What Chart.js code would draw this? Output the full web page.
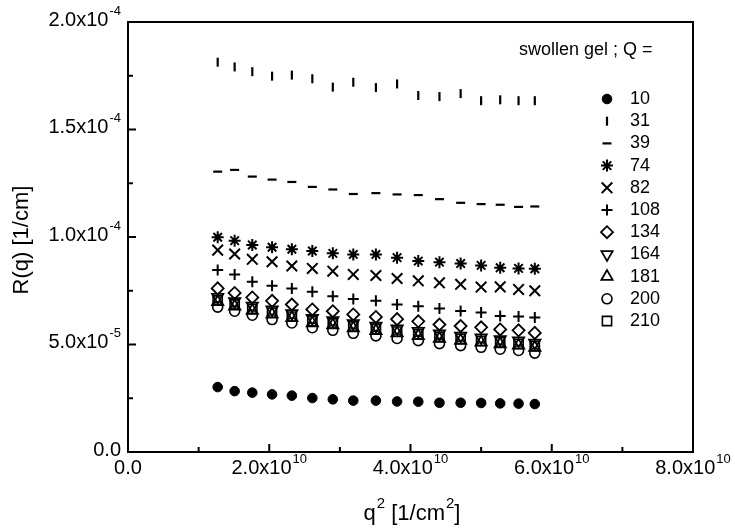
<!DOCTYPE html>
<html lang="en">
<head>
    <meta charset="UTF-8">
    <title>R(q) vs q^2 - swollen gel</title>
    <script src="https://cdn.jsdelivr.net/npm/chart.js"></script>
    <style>
        body { margin: 0; background: white; }
        canvas { display: block; }
    </style>
</head>
<body>
    <canvas id="rqChart" width="735" height="529"></canvas>

    <script>
        // q^2 positions (1/cm^2), same for every series
        var q2 = [1.27e10, 1.51e10, 1.76e10, 2.04e10, 2.32e10, 2.61e10, 2.90e10, 3.19e10, 3.51e10,
                  3.81e10, 4.11e10, 4.41e10, 4.71e10, 5.00e10, 5.27e10, 5.53e10, 5.76e10];

        // R(q) for each Q (1/cm)
        var R10  = [3.02e-5, 2.83e-5, 2.76e-5, 2.68e-5, 2.62e-5, 2.51e-5, 2.45e-5, 2.39e-5, 2.39e-5,
                    2.35e-5, 2.34e-5, 2.29e-5, 2.29e-5, 2.28e-5, 2.26e-5, 2.25e-5, 2.23e-5];
        var R31  = [1.813e-4, 1.791e-4, 1.769e-4, 1.748e-4, 1.753e-4, 1.736e-4, 1.697e-4, 1.720e-4, 1.695e-4,
                    1.712e-4, 1.658e-4, 1.653e-4, 1.667e-4, 1.634e-4, 1.638e-4, 1.634e-4, 1.634e-4];
        var R39  = [1.304e-4, 1.312e-4, 1.281e-4, 1.267e-4, 1.256e-4, 1.233e-4, 1.221e-4, 1.200e-4, 1.204e-4,
                    1.198e-4, 1.195e-4, 1.176e-4, 1.159e-4, 1.153e-4, 1.150e-4, 1.140e-4, 1.142e-4];
        var R74  = [9.99e-5, 9.83e-5, 9.63e-5, 9.52e-5, 9.43e-5, 9.35e-5, 9.24e-5, 9.19e-5, 9.19e-5,
                    9.04e-5, 8.88e-5, 8.83e-5, 8.77e-5, 8.68e-5, 8.57e-5, 8.54e-5, 8.52e-5];
        var R82  = [9.39e-5, 9.21e-5, 8.96e-5, 8.85e-5, 8.65e-5, 8.54e-5, 8.41e-5, 8.26e-5, 8.21e-5,
                    8.07e-5, 7.96e-5, 7.87e-5, 7.80e-5, 7.67e-5, 7.68e-5, 7.56e-5, 7.50e-5];
        var R108 = [8.46e-5, 8.26e-5, 7.92e-5, 7.73e-5, 7.61e-5, 7.45e-5, 7.25e-5, 7.12e-5, 7.03e-5,
                    6.86e-5, 6.78e-5, 6.68e-5, 6.56e-5, 6.49e-5, 6.33e-5, 6.30e-5, 6.26e-5];
        var R134 = [7.61e-5, 7.40e-5, 7.19e-5, 7.03e-5, 6.86e-5, 6.63e-5, 6.55e-5, 6.40e-5, 6.28e-5,
                    6.18e-5, 6.08e-5, 5.93e-5, 5.86e-5, 5.80e-5, 5.70e-5, 5.66e-5, 5.54e-5];
        var R164 = [7.20e-5, 7.00e-5, 6.80e-5, 6.62e-5, 6.45e-5, 6.22e-5, 6.12e-5, 5.98e-5, 5.86e-5,
                    5.74e-5, 5.62e-5, 5.50e-5, 5.40e-5, 5.32e-5, 5.24e-5, 5.18e-5, 5.08e-5];
        var R181 = [6.98e-5, 6.78e-5, 6.58e-5, 6.40e-5, 6.24e-5, 6.00e-5, 5.90e-5, 5.76e-5, 5.64e-5,
                    5.53e-5, 5.40e-5, 5.28e-5, 5.18e-5, 5.10e-5, 5.02e-5, 4.96e-5, 4.86e-5];
        var R200 = [6.74e-5, 6.55e-5, 6.36e-5, 6.16e-5, 6.00e-5, 5.78e-5, 5.66e-5, 5.52e-5, 5.40e-5,
                    5.28e-5, 5.18e-5, 5.04e-5, 4.95e-5, 4.87e-5, 4.78e-5, 4.72e-5, 4.60e-5];
        var R210 = [7.05e-5, 6.86e-5, 6.66e-5, 6.48e-5, 6.30e-5, 6.08e-5, 5.98e-5, 5.84e-5, 5.72e-5,
                    5.60e-5, 5.47e-5, 5.35e-5, 5.26e-5, 5.17e-5, 5.10e-5, 5.03e-5, 4.93e-5];

        var seriesNames = ['10', '31', '39', '74', '82', '108', '134', '164', '181', '200', '210'];
        var seriesValues = [R10, R31, R39, R74, R82, R108, R134, R164, R181, R200, R210];

        // tick labels: mantissa part + superscript exponent
        var xTickValues = [0, 2e10, 4e10, 6e10, 8e10];
        var xTickText = ['0.0', '2.0x10', '4.0x10', '6.0x10', '8.0x10'];
        var xTickExp = ['', '10', '10', '10', '10'];
        var yTickValues = [0, 5e-5, 1e-4, 1.5e-4, 2e-4];
        var yTickText = ['0.0', '5.0x10', '1.0x10', '1.5x10', '2.0x10'];
        var yTickExp = ['', '-5', '-4', '-4', '-4'];

        // marker look for each series
        var markers = [
            { style: 'circle', rot: 0, r: 4.8, bw: 1, fill: '#000' },
            { style: 'line', rot: 90, r: 4.5, bw: 2.2, fill: 'transparent' },
            { style: 'line', rot: 0, r: 4.5, bw: 2.2, fill: 'transparent' },
            { style: 'star', rot: 0, r: 6, bw: 2, fill: 'transparent' },
            { style: 'crossRot', rot: 0, r: 7.5, bw: 2, fill: 'transparent' },
            { style: 'cross', rot: 0, r: 5.5, bw: 2, fill: 'transparent' },
            { style: 'rectRot', rot: 0, r: 6, bw: 1.8, fill: 'transparent' },
            { style: 'triangle', rot: 180, r: 6.5, bw: 1.8, fill: 'transparent' },
            { style: 'triangle', rot: 0, r: 6.5, bw: 1.8, fill: 'transparent' },
            { style: 'circle', rot: 0, r: 5, bw: 1.6, fill: 'transparent' },
            { style: 'rect', rot: 0, r: 6.5, bw: 1.6, fill: 'transparent' }
        ];

        var FONT = "'Liberation Sans', Arial, sans-serif";

        var datasets = seriesNames.map(function(name, i) {
            var m = markers[i];
            return {
                label: name,
                data: q2.map(function(x, j) { return { x: x, y: seriesValues[i][j] }; }),
                pointStyle: m.style,
                rotation: m.rot,
                pointRadius: m.r,
                borderWidth: m.bw,
                borderColor: '#000',
                backgroundColor: m.fill,
                showLine: false
            };
        });

        // draws a run of [text, isSuperscript] parts; align = 'left', 'right' or 'center'
        function drawParts(ctx, parts, x, y, align, size) {
            var supSize = Math.round(size * 0.66);
            var widths = parts.map(function(p) {
                ctx.font = (p[1] ? supSize : size) + 'px ' + FONT;
                return ctx.measureText(p[0]).width + (p[1] ? 1 : 0);
            });
            var total = widths.reduce(function(a, b) { return a + b; }, 0);
            var left = align === 'right' ? x - total : (align === 'center' ? x - total / 2 : x);
            ctx.textAlign = 'left';
            ctx.textBaseline = 'middle';
            parts.forEach(function(p, i) {
                ctx.font = (p[1] ? supSize : size) + 'px ' + FONT;
                ctx.fillText(p[0], left + (p[1] ? 1 : 0), p[1] ? y - size * 0.45 : y);
                left += widths[i];
            });
        }

        function tickParts(base, exp) {
            return exp ? [[base, false], [exp, true]] : [[base, false]];
        }

        var decorations = {
            id: 'decorations',
            afterDatasetsDraw: function(chart) {
                var ctx = chart.ctx;
                var area = chart.chartArea;
                var xs = chart.scales.x, ys = chart.scales.y;
                ctx.save();
                ctx.strokeStyle = '#000';
                ctx.fillStyle = '#000';

                // frame
                ctx.lineWidth = 2;
                ctx.strokeRect(area.left, area.top, area.right - area.left, area.bottom - area.top);

                // inward ticks, major + minor
                ctx.lineWidth = 2;
                ctx.beginPath();
                for (var v = 0; v <= 8; v++) {
                    var px = xs.getPixelForValue(v * 1e10);
                    var len = v % 2 === 0 ? 8 : 5;
                    ctx.moveTo(px, area.bottom);
                    ctx.lineTo(px, area.bottom - len);
                }
                for (var k = 0; k <= 8; k++) {
                    var py = ys.getPixelForValue(k * 2.5e-5);
                    var len2 = k % 2 === 0 ? 8 : 5;
                    ctx.moveTo(area.left, py);
                    ctx.lineTo(area.left + len2, py);
                }
                ctx.stroke();

                // tick labels
                xTickValues.forEach(function(val, i) {
                    drawParts(ctx, tickParts(xTickText[i], xTickExp[i]), xs.getPixelForValue(val), 468, 'center', 20);
                });
                yTickValues.forEach(function(val, i) {
                    drawParts(ctx, tickParts(yTickText[i], yTickExp[i]), 121, ys.getPixelForValue(val) - 2, 'right', 20);
                });

                // axis titles
                drawParts(ctx, [['q', false], ['2', true], [' [1/cm', false], ['2', true], [']', false]], 412, 514, 'center', 22);

                ctx.save();
                ctx.translate(22, 240);
                ctx.rotate(-Math.PI / 2);
                ctx.textAlign = 'center';
                ctx.textBaseline = 'middle';
                ctx.font = '22px ' + FONT;
                ctx.fillText('R(q) [1/cm]', 0, 0);
                ctx.restore();

                // legend
                ctx.textAlign = 'left';
                ctx.textBaseline = 'middle';
                ctx.font = '18px ' + FONT;
                ctx.fillText('swollen gel ; Q =', 519, 50);
                ctx.font = '18px ' + FONT;
                seriesNames.forEach(function(name, i) {
                    var m = markers[i];
                    var ly = 99 + i * 22.2;
                    ctx.fillStyle = m.fill;
                    ctx.strokeStyle = '#000';
                    ctx.lineWidth = m.bw;
                    Chart.helpers.drawPoint(ctx, { pointStyle: m.style, rotation: m.rot, radius: m.r, borderWidth: m.bw }, 607, ly);
                    ctx.fillStyle = '#000';
                    ctx.fillText(name, 630, ly);
                });
                ctx.restore();
            }
        };

        var ctx = document.getElementById('rqChart').getContext('2d');
        new Chart(ctx, {
            type: 'scatter',
            data: { datasets: datasets },
            options: {
                responsive: false,
                animation: false,
                layout: { padding: { left: 128, right: 42, top: 22, bottom: 77 } },
                plugins: {
                    legend: { display: false },
                    tooltip: { enabled: false }
                },
                scales: {
                    x: { type: 'linear', min: 0, max: 8e10, display: false },
                    y: { type: 'linear', min: 0, max: 2e-4, display: false }
                }
            },
            plugins: [decorations]
        });
    </script>
</body>
</html>
